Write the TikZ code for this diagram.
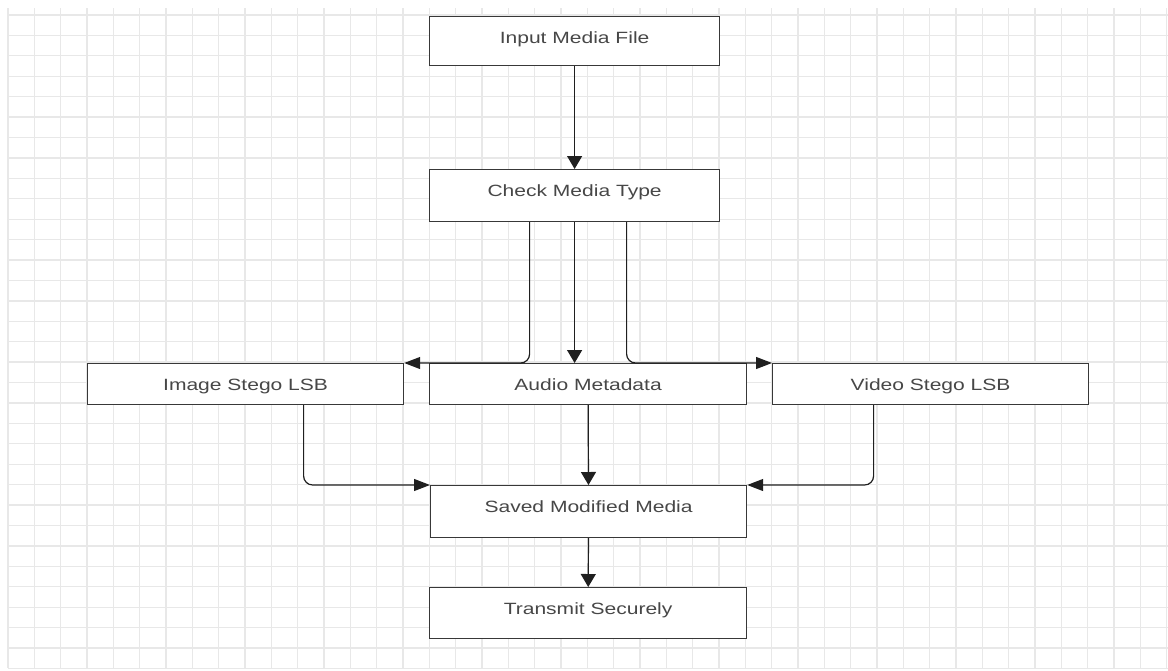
\documentclass[tikz,border=0pt]{standalone}
\usepackage{fontspec}
\setmainfont[FakeStretch=1.29]{Liberation Sans}
\usepackage{tikz}
\usetikzlibrary{arrows.meta}

\tikzset{
    gridline/.style={draw=black!9, line width=1.3pt},
    stepbox/.style={draw=black!78, line width=1.2pt, fill=white, text=black!72,
        anchor=north west, inner xsep=0pt, inner ysep=0pt, text height=26.4pt,
        font=\fontsize{16.3pt}{19pt}\selectfont},
    vflow/.style={draw=black!88, line width=1.2pt, -{Triangle[length=13pt, width=15pt]}},
    hflow/.style={draw=black!88, line width=1.2pt, rounded corners=9pt,
        -{Triangle[length=16pt, width=12pt]}}
}

\begin{document}
\begin{tikzpicture}[x=1pt, y=-1pt]
    \useasboundingbox (0, 0) rectangle (1168, 670);

    % Background grid
    \foreach \i in {0,...,44}
        \draw[gridline] ({8+26.33*\i}, 8) -- ({8+26.33*\i}, 668);
    \foreach \j in {0,...,32}
        \draw[gridline] (8, {15+20.42*\j}) -- (1168, {15+20.42*\j});

    % The boxes
    \node[stepbox, minimum width=290pt, text depth=22.6pt] (input) at (429, 16) {Input Media File};
    \node[stepbox, minimum width=290pt, text depth=25.6pt] (check) at (429, 169) {Check Media Type};
    \node[stepbox, minimum width=316pt, text depth=14.6pt] (image) at (87, 363) {Image Stego LSB};
    \node[stepbox, minimum width=317pt, text depth=14.6pt] (audio) at (429, 363) {Audio Metadata};
    \node[stepbox, minimum width=316pt, text depth=14.6pt] (video) at (772, 363) {Video Stego LSB};
    \node[stepbox, minimum width=316pt, text depth=25.6pt] (saved) at (430, 485) {Saved Modified Media};
    \node[stepbox, minimum width=317pt, text depth=24.6pt] (transmit) at (429, 587) {Transmit Securely};

    % Input to type check
    \draw[vflow] (input) -- (check);

    % Split by media type
    \draw[vflow] (check.south) -- (check.south |- audio.north);
    \draw[hflow] ([xshift=-45pt]check.south) |- (image.north east);
    \draw[hflow] ([xshift=52pt]check.south) |- (video.north west);

    % Join at the saved media
    \draw[hflow] ([xshift=58pt]image.south) |- (saved.north west);
    \draw[hflow] ([xshift=-57pt]video.south) |- (saved.north east);
    \draw[vflow] (audio) -- (saved);
    \draw[vflow] (saved) -- (transmit);
\end{tikzpicture}
\end{document}
